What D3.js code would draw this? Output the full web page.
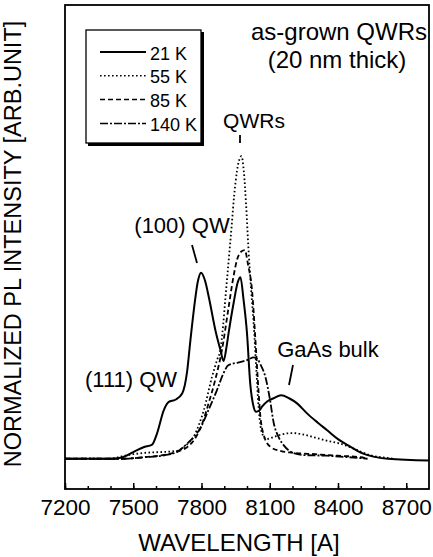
<!DOCTYPE html>
<html>
<head>
<meta charset="utf-8">
<script src="https://cdn.jsdelivr.net/npm/d3@7"></script>
<style>
  body { margin: 0; background: #fff; }
  text { font-family: "Liberation Sans", Arial, sans-serif; fill: #000; }
</style>
</head>
<body>
<script>
// PL spectra, wavelength [A] vs normalized intensity
var k21 = [[7200,0],[7400,0],[7450,0.004],[7500,0.022],[7545,0.038],[7583,0.047],[7605,0.085],
  [7634,0.16],[7656,0.188],[7685,0.195],[7715,0.216],[7737,0.29],[7751,0.39],[7766,0.49],
  [7785,0.59],[7798,0.615],[7815,0.59],[7832,0.535],[7861,0.425],[7883,0.36],[7897,0.323],
  [7910,0.37],[7919,0.415],[7941,0.514],[7960,0.585],[7971,0.6],[7985,0.525],[8000,0.415],
  [8014,0.25],[8029,0.172],[8040,0.155],[8055,0.16],[8066,0.172],[8090,0.19],[8117,0.2],
  [8150,0.21],[8185,0.2],[8220,0.183],[8264,0.15],[8310,0.12],[8351,0.095],[8400,0.065],
  [8454,0.04],[8500,0.02],[8555,0.007],[8620,0],[8800,-0.006]];

var k55 = [[7200,0],[7400,0],[7450,0.008],[7500,0.015],[7560,0.02],[7620,0.022],[7680,0.025],
  [7707,0.03],[7740,0.05],[7766,0.073],[7790,0.115],[7810,0.16],[7846,0.27],[7870,0.33],
  [7883,0.36],[7895,0.44],[7905,0.53],[7927,0.72],[7949,0.91],[7963,0.98],[7976,1.0],
  [7986,0.95],[7996,0.84],[8006,0.7],[8018,0.56],[8029,0.45],[8040,0.31],[8051,0.17],
  [8066,0.085],[8085,0.065],[8110,0.07],[8150,0.08],[8200,0.085],[8250,0.08],[8300,0.07],
  [8350,0.06],[8410,0.05],[8480,0.03],[8540,0.012],[8590,0.005],[8650,0]];

var k85 = [[7200,0],[7450,0],[7550,0.005],[7650,0.015],[7700,0.025],[7740,0.04],[7770,0.065],
  [7800,0.11],[7830,0.18],[7860,0.26],[7890,0.36],[7919,0.5],[7940,0.6],[7956,0.657],
  [7975,0.685],[7990,0.69],[8005,0.64],[8022,0.558],[8037,0.393],[8051,0.22],[8059,0.139],
  [8073,0.08],[8102,0.04],[8150,0.025],[8200,0.02],[8300,0.015],[8400,0.01],[8500,0.005],
  [8530,0]];

var k140 = [[7200,0],[7450,0],[7550,0.005],[7640,0.012],[7693,0.023],[7737,0.05],[7770,0.075],
  [7794,0.1],[7830,0.16],[7868,0.227],[7895,0.28],[7919,0.31],[7960,0.318],[8000,0.326],
  [8030,0.335],[8045,0.33],[8060,0.31],[8081,0.27],[8100,0.2],[8117,0.12],[8140,0.07],
  [8161,0.045],[8200,0.02],[8250,0.012],[8350,0.01],[8450,0.005],[8530,0]];

var seriesNames = ["21 K", "55 K", "85 K", "140 K"];
var seriesData = [k21, k55, k85, k140];
var seriesDash = ["none", "1.6,2.4", "5,3", "8,2,2,2"];

var xTicks = [7200, 7500, 7800, 8100, 8400, 8700];
var xMinor = d3.range(7200, 8800, 100);

var width = 433, height = 557;
var plot = { left: 65, right: 429, top: 5, bottom: 489 };

var x = d3.scaleLinear().domain([7200, 8800]).range([plot.left, plot.right]);
var y = d3.scaleLinear().domain([-0.1, 1.5]).range([plot.bottom, plot.top]);

var svg = d3.select("body").append("svg")
  .attr("width", width)
  .attr("height", height);

// minor ticks (inward)
svg.append("g")
  .attr("transform", "translate(0," + plot.bottom + ")")
  .call(d3.axisBottom(x).tickValues(xMinor).tickSize(-3).tickFormat(""))
  .call(function (g) { g.select(".domain").remove(); })
  .selectAll("line").attr("stroke-width", 1.5);

// major ticks + labels
var xAxis = svg.append("g")
  .attr("transform", "translate(0," + plot.bottom + ")")
  .call(d3.axisBottom(x).tickValues(xTicks).tickSizeInner(-6).tickSizeOuter(0).tickPadding(10)
    .tickFormat(d3.format("d")));
xAxis.select(".domain").remove();
xAxis.selectAll("line").attr("stroke-width", 1.5);
xAxis.selectAll("text")
  .style("font-family", "'Liberation Sans', Arial, sans-serif")
  .style("font-size", "22.5px")
  .attr("fill", "#000");

// frame
svg.append("rect")
  .attr("x", plot.left)
  .attr("y", plot.top)
  .attr("width", plot.right - plot.left)
  .attr("height", plot.bottom - plot.top)
  .attr("fill", "none")
  .attr("stroke", "#000")
  .attr("stroke-width", 1.8);

var line = d3.line()
  .x(function (d) { return x(d[0]); })
  .y(function (d) { return y(d[1]); })
  .curve(d3.curveMonotoneX);

svg.append("g").selectAll("path")
  .data(seriesData)
  .join("path")
  .attr("d", line)
  .attr("fill", "none")
  .attr("stroke", "#000")
  .attr("stroke-width", function (d, i) { return i == 0 ? 2 : 1.8; })
  .attr("stroke-dasharray", function (d, i) { return seriesDash[i]; });

// legend
var legend = svg.append("g");
legend.append("rect")
  .attr("x", 88).attr("y", 32).attr("width", 116).attr("height", 114)
  .attr("fill", "#000");
legend.append("rect")
  .attr("x", 86).attr("y", 30).attr("width", 115).attr("height", 113)
  .attr("fill", "#fff").attr("stroke", "#000").attr("stroke-width", 1.3);
var rows = legend.selectAll("g.row")
  .data(seriesNames)
  .join("g")
  .attr("class", "row")
  .attr("transform", function (d, i) { return "translate(0," + (52 + i * 23.8) + ")"; });
rows.append("line")
  .attr("x1", 100).attr("x2", 146)
  .attr("stroke", "#000")
  .attr("stroke-width", function (d, i) { return i == 0 ? 1.8 : 1.5; })
  .attr("stroke-dasharray", function (d, i) { return seriesDash[i]; });
rows.append("text")
  .attr("x", 150).attr("y", 7.5)
  .style("font-size", "18px")
  .text(function (d) { return d; });

// annotations
function label(t, tx, ty, size, anchor) {
  svg.append("text")
    .attr("x", tx).attr("y", ty)
    .attr("text-anchor", anchor || "start")
    .style("font-size", size + "px")
    .text(t);
}
label("as-grown QWRs", 427, 40, 24, "end");
label("(20 nm thick)", 337, 68, 24, "middle");
label("QWRs", 254, 128, 21, "middle");
label("(100) QW", 182, 233, 22, "middle");
label("(111) QW", 131, 387, 22, "middle");
label("GaAs bulk", 328, 357, 22, "middle");

function pointer(x1, y1, x2, y2) {
  svg.append("line")
    .attr("x1", x1).attr("y1", y1).attr("x2", x2).attr("y2", y2)
    .attr("stroke", "#000").attr("stroke-width", 1.8);
}
pointer(240, 135, 240, 143);
pointer(192, 245, 197, 263);
pointer(293, 365, 289, 385);

// axis titles
svg.append("text")
  .attr("x", 239).attr("y", 551)
  .attr("text-anchor", "middle")
  .style("font-size", "24px")
  .text("WAVELENGTH [A]");

svg.append("text")
  .attr("transform", "translate(21,244) rotate(-90)")
  .attr("text-anchor", "middle")
  .style("font-size", "23.5px")
  .text("NORMALIZED PL INTENSITY [ARB.UNIT]");
</script>
</body>
</html>
